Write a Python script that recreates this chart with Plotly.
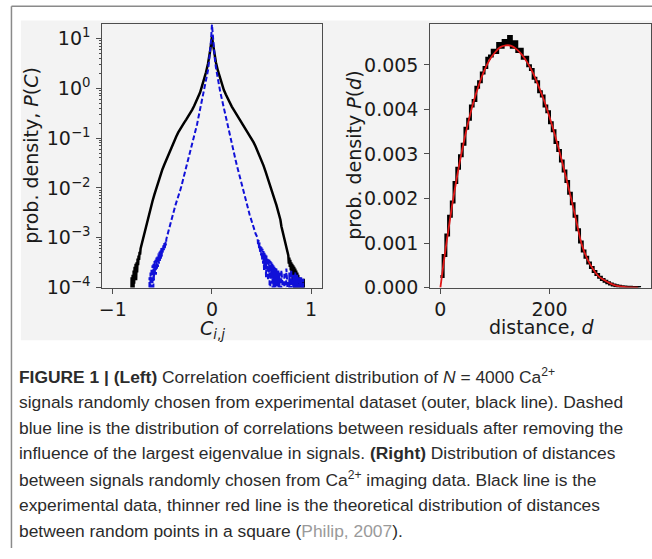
import plotly.graph_objects as go

W, H = 652, 559

# ---------------- data: left panel (correlation distribution) ----------------
black_c = [-0.83, -0.81, -0.805, -0.80, -0.795, -0.79, -0.785, -0.78, -0.775, -0.77, -0.765, -0.76,
           -0.755, -0.75, -0.745, -0.74, -0.735, -0.73, -0.725, -0.72, -0.71, -0.70, -0.69, -0.68,
           -0.67, -0.66, -0.65, -0.64, -0.63, -0.62, -0.61, -0.60, -0.58, -0.56, -0.54, -0.52,
           -0.50, -0.48, -0.46, -0.44, -0.42, -0.40, -0.38, -0.36, -0.34, -0.32, -0.30, -0.28,
           -0.26, -0.24, -0.22, -0.20, -0.18, -0.16, -0.14, -0.12, -0.10, -0.08, -0.06, -0.04,
           -0.03, -0.02, -0.01, 0.00, 0.01, 0.02, 0.03, 0.04, 0.06, 0.08, 0.10, 0.12,
           0.14, 0.16, 0.18, 0.20, 0.22, 0.24, 0.26, 0.28, 0.30, 0.32, 0.34, 0.36,
           0.38, 0.40, 0.42, 0.44, 0.46, 0.48, 0.50, 0.52, 0.54, 0.56, 0.58, 0.60,
           0.62, 0.64, 0.65, 0.66, 0.67, 0.68, 0.69, 0.70, 0.71, 0.72, 0.73, 0.74,
           0.75, 0.76, 0.77, 0.775, 0.78, 0.785, 0.79, 0.795, 0.80, 0.805, 0.81, 0.815,
           0.82, 0.825, 0.83, 0.835, 0.84, 0.845, 0.85, 0.855, 0.86, 0.865, 0.87, 0.875,
           0.88, 0.885, 0.89, 0.90, 0.905, 0.91, 0.92, 0.925, 0.93, 0.935]
black_p = [1e-7, 1.6e-4, 1e-7, 1.8e-4, 1e-7, 2.2e-4, 1.2e-4, 2.6e-4, 1.5e-4, 3.0e-4, 1.4e-4, 3.2e-4,
           2.0e-4, 3.8e-4, 2.8e-4, 4.4e-4, 3.6e-4, 5.2e-4, 4.6e-4, 6.0e-4, 7.2e-4, 8.8e-4, 1.1e-3, 1.3e-3,
           1.6e-3, 2.0e-3, 2.3e-3, 2.8e-3, 3.3e-3, 3.9e-3, 4.6e-3, 5.4e-3, 7.4e-3, 1.0e-2, 1.35e-2, 1.8e-2,
           2.35e-2, 2.95e-2, 3.7e-2, 4.6e-2, 5.8e-2, 7.4e-2, 9.0e-2, 0.108, 0.13, 0.155, 0.18, 0.205,
           0.235, 0.27, 0.31, 0.37, 0.44, 0.54, 0.66, 0.82, 1.12, 1.5, 2.1, 3.1,
           3.9, 5.4, 7.5, 11.0, 7.8, 5.8, 4.2, 3.3, 2.25, 1.6, 1.2, 0.92,
           0.75, 0.61, 0.51, 0.43, 0.37, 0.32, 0.27, 0.23, 0.20, 0.175, 0.15, 0.13,
           0.113, 0.097, 0.082, 0.068, 0.055, 0.045, 0.036, 0.028, 0.0215, 0.0165, 0.0125, 0.0093,
           0.0070, 0.0052, 0.0045, 0.0038, 0.0032, 0.0027, 0.0023, 0.0017, 0.0014, 0.0012, 9.5e-4, 7.5e-4,
           6.0e-4, 5.2e-4, 4.4e-4, 3.0e-4, 4.0e-4, 2.6e-4, 3.6e-4, 2.2e-4, 3.2e-4, 1.8e-4, 3.0e-4, 1.2e-4,
           2.8e-4, 1.6e-4, 2.6e-4, 1e-7, 2.4e-4, 1.4e-4, 2.2e-4, 1e-7, 2.0e-4, 1.3e-4, 1.8e-4, 1e-7,
           1.6e-4, 1e-7, 1.5e-4, 1e-7, 1.4e-4, 1e-7, 1e-7, 1.5e-4, 1e-7, 1e-7]

blue_c = [-0.64, -0.63, -0.625, -0.62, -0.615, -0.61, -0.605, -0.60, -0.595, -0.59, -0.585, -0.58,
          -0.575, -0.57, -0.565, -0.56, -0.555, -0.55, -0.545, -0.54, -0.535, -0.53, -0.525, -0.52,
          -0.515, -0.51, -0.505, -0.50, -0.495, -0.49, -0.485, -0.48, -0.475, -0.47, -0.465, -0.46,
          -0.45, -0.44, -0.43, -0.42,
          -0.41, -0.40, -0.39, -0.38, -0.37, -0.36, -0.35, -0.34, -0.33, -0.32, -0.31, -0.30,
          -0.29, -0.28, -0.27, -0.26, -0.25, -0.24, -0.23, -0.22, -0.21, -0.20, -0.19, -0.18,
          -0.17, -0.16, -0.15, -0.14, -0.13, -0.12, -0.11, -0.10, -0.09, -0.08, -0.07, -0.06,
          -0.05, -0.04, -0.03, -0.02, -0.01, 0.00, 0.01, 0.02, 0.03, 0.04, 0.05, 0.06,
          0.07, 0.08, 0.09, 0.10, 0.11, 0.12, 0.13, 0.14, 0.15, 0.16, 0.17, 0.18,
          0.19, 0.20, 0.21, 0.22, 0.23, 0.24, 0.25, 0.26, 0.27, 0.28, 0.29, 0.30,
          0.31, 0.32, 0.33, 0.34, 0.35, 0.36, 0.37, 0.38, 0.39, 0.40, 0.41, 0.42,
          0.43, 0.44, 0.45, 0.46, 0.465, 0.47, 0.475, 0.48, 0.485, 0.49, 0.495, 0.50,
          0.505, 0.51, 0.515, 0.52, 0.525, 0.53, 0.535, 0.54, 0.545, 0.55, 0.555, 0.56,
          0.565, 0.57, 0.575, 0.58, 0.585, 0.59, 0.595, 0.60, 0.605, 0.61, 0.615, 0.62,
          0.625, 0.63, 0.635, 0.64, 0.645, 0.65, 0.655, 0.66, 0.665, 0.67, 0.675, 0.68,
          0.69, 0.70, 0.71, 0.72, 0.73, 0.74, 0.75, 0.76, 0.77, 0.78, 0.79, 0.80,
          0.81, 0.82, 0.83, 0.84, 0.85, 0.86, 0.87, 0.88, 0.89, 0.90, 0.91, 0.92, 0.93]
blue_p = [1e-7, 1.6e-4, 1e-7, 2.0e-4, 1e-7, 2.4e-4, 1.2e-4, 2.8e-4, 1e-7, 3.0e-4, 1.4e-4, 3.4e-4,
          2.0e-4, 3.6e-4, 1.8e-4, 4.0e-4, 2.4e-4, 4.4e-4, 2.6e-4, 4.8e-4, 3.0e-4, 5.2e-4, 3.4e-4, 5.8e-4,
          3.8e-4, 6.2e-4, 4.2e-4, 6.6e-4, 5.0e-4, 7.2e-4, 5.6e-4, 7.8e-4, 6.2e-4, 8.4e-4, 7.0e-4, 9.4e-4,
          1.1e-3, 1.3e-3, 1.55e-3, 1.8e-3,
          2.2e-3, 2.6e-3, 3.1e-3, 3.7e-3, 4.4e-3, 5.0e-3, 5.8e-3, 6.8e-3, 7.8e-3, 9.0e-3, 1.05e-2, 1.25e-2,
          1.5e-2, 1.8e-2, 2.2e-2, 2.7e-2, 3.2e-2, 3.9e-2, 4.7e-2, 5.6e-2, 6.6e-2, 7.8e-2, 9.2e-2, 0.11,
          0.13, 0.16, 0.19, 0.24, 0.30, 0.37, 0.46, 0.57, 0.70, 0.86, 1.05, 1.3,
          1.7, 2.3, 3.4, 5.2, 9.0, 19.0, 9.5, 5.6, 3.7, 2.6, 1.9, 1.45,
          1.15, 0.92, 0.74, 0.60, 0.48, 0.38, 0.31, 0.25, 0.20, 0.165, 0.135, 0.11,
          0.090, 0.075, 0.062, 0.051, 0.042, 0.035, 0.029, 0.024, 0.020, 0.0165, 0.0138, 0.0115,
          0.0096, 0.0080, 0.0067, 0.0056, 0.0047, 0.0040, 0.0034, 0.0029, 0.0025, 0.0021, 0.0018, 0.0016,
          0.0014, 0.0012, 0.0011, 0.0010, 7.0e-4, 9.0e-4, 6.0e-4, 8.0e-4, 5.0e-4, 7.0e-4, 4.4e-4, 6.4e-4,
          3.6e-4, 6.0e-4, 3.0e-4, 5.4e-4, 2.2e-4, 5.0e-4, 2.6e-4, 4.6e-4, 1.6e-4, 4.4e-4, 2.4e-4, 4.0e-4,
          1.4e-4, 3.8e-4, 2.0e-4, 3.6e-4, 1e-7, 3.4e-4, 1.6e-4, 3.2e-4, 1.2e-4, 3.0e-4, 1e-7, 2.8e-4,
          1.5e-4, 2.6e-4, 1e-7, 2.5e-4, 1.3e-4, 2.4e-4, 1e-7, 2.2e-4, 1.2e-4, 2.2e-4, 1e-7, 2.0e-4,
          1e-7, 2.2e-4, 1.3e-4, 1e-7, 2.0e-4, 1e-7, 2.4e-4, 1.2e-4, 1e-7, 2.0e-4, 1e-7, 2.2e-4,
          1e-7, 1.8e-4, 1e-7, 2.0e-4, 1e-7, 1.8e-4, 1e-7, 1.6e-4, 1e-7, 1.6e-4, 1e-7, 1.5e-4, 1e-7]

c_tickvals = [-1, 0, 1]
c_ticktext = ["−1", "0", "1"]
p_tickvals = [1e-4, 1e-3, 1e-2, 1e-1, 1e0, 1e1]
p_ticktext = ["10<sup>−4</sup>", "10<sup>−3</sup>", "10<sup>−2</sup>",
              "10<sup>−1</sup>", "10<sup>0</sup>", "10<sup>1</sup>"]

# ---------------- data: right panel (distance distribution) ----------------
dist_edges = list(range(0, 370, 5))
dist_hist = [0.00025, 0.00072, 0.00118, 0.00160, 0.00192, 0.00236, 0.00268, 0.00296, 0.00322, 0.00358,
             0.00378, 0.00408, 0.00420, 0.00450, 0.00462, 0.00482, 0.00494, 0.00515, 0.00520, 0.00533,
             0.00528, 0.00548, 0.00540, 0.00555, 0.00548, 0.00564, 0.00540, 0.00552, 0.00530, 0.00535,
             0.00515, 0.00517, 0.00498, 0.00490, 0.00470, 0.00462, 0.00440, 0.00430, 0.00408, 0.00395,
             0.00370, 0.00352, 0.00326, 0.00308, 0.00284, 0.00262, 0.00238, 0.00212, 0.00188, 0.00160,
             0.00130, 0.00102, 0.00082, 0.00068, 0.00055, 0.00045, 0.00036, 0.00029, 0.00023, 0.00018,
             0.00014, 0.00011, 0.00008, 0.000055, 0.00004, 0.000028, 0.000018, 0.000011, 0.000007, 0.000004,
             0.000002, 0.000001, 0.0000005, 0.0]
theory_d = [0, 10, 20, 30, 40, 50, 60, 70, 80, 90, 100, 110, 120, 130, 140, 150, 160, 170, 180, 190,
            200, 210, 220, 230, 240, 250, 256, 260, 270, 280, 290, 300, 310, 320, 330, 340, 350, 362]
theory_p = [0.0, 0.00091, 0.00173, 0.00246, 0.00310, 0.00366, 0.00414, 0.00453, 0.00486, 0.00511,
            0.00528, 0.00540, 0.00544, 0.00543, 0.00535, 0.00522, 0.00504, 0.00481, 0.00452, 0.00420,
            0.00383, 0.00342, 0.00297, 0.00249, 0.00198, 0.00144, 0.00111, 0.00093, 0.00062, 0.00041,
            0.00025, 0.00017, 0.00010, 0.00005, 0.000025, 0.00001, 0.000003, 0.0]
d_tickvals = [0, 200]
pd_tickvals = [0.000, 0.001, 0.002, 0.003, 0.004, 0.005]

caption_lines = [
    "<b>FIGURE 1 | (Left)</b> Correlation coefficient distribution of <i>N</i> = 4000 Ca<sup>2+</sup>",
    "signals randomly chosen from experimental dataset (outer, black line). Dashed",
    "blue line is the distribution of correlations between residuals after removing the",
    "influence of the largest eigenvalue in signals. <b>(Right)</b> Distribution of distances",
    "between signals randomly chosen from Ca<sup>2+</sup> imaging data. Black line is the",
    "experimental data, thinner red line is the theoretical distribution of distances",
    "between random points in a square (<span style='color:#9a9a9a'>Philip, 2007</span>).",
]

# ---------------- figure ----------------
def px(x):
    return x / W

def py(y):
    return 1 - y / H

BG = "#f3f3f3"
SPINE = "#4d4d4d"
TICKFONT = dict(family="DejaVu Sans", size=19, color="#1a1a1a")

fig = go.Figure()

fig.add_trace(go.Scatter(x=black_c, y=black_p, mode="lines", line_shape="linear",
                         line=dict(color="black", width=2.5), xaxis="x", yaxis="y",
                         showlegend=False))
fig.add_trace(go.Scatter(x=blue_c, y=blue_p, mode="lines", line_shape="linear",
                         line=dict(color="#1010d8", width=2, dash="5px,2.5px"),
                         xaxis="x", yaxis="y", showlegend=False))

fig.add_trace(go.Scatter(x=dist_edges, y=dist_hist, mode="lines", line_shape="hv",
                         line=dict(color="black", width=3), xaxis="x2", yaxis="y2",
                         showlegend=False))
fig.add_trace(go.Scatter(x=theory_d, y=theory_p, mode="lines", line_shape="spline",
                         line=dict(color="#e01818", width=1.8), xaxis="x2", yaxis="y2",
                         showlegend=False))

minor_vals = [m * 10 ** e for e in range(-4, 2) for m in range(2, 10)]

axis_common = dict(showgrid=False, zeroline=False, showline=True, mirror=True,
                   linecolor=SPINE, linewidth=1.2, ticks="outside", ticklen=5,
                   tickwidth=1.2, tickcolor=SPINE, tickfont=TICKFONT)

fig.update_layout(
    width=W, height=H,
    margin=dict(l=0, r=0, t=0, b=0),
    paper_bgcolor="white",
    plot_bgcolor=BG,
    xaxis=dict(domain=[px(99), px(320)], range=[-1.105, 1.11], anchor="y",
               tickmode="array", tickvals=c_tickvals, ticktext=c_ticktext,
               ticklabelstandoff=0, **axis_common),
    yaxis=dict(domain=[py(293.3), py(24)], type="log", range=[-4, 1.3], anchor="x",
               tickmode="array", tickvals=p_tickvals, ticktext=p_ticktext,
               minor=dict(ticks="outside", ticklen=2.5, tickcolor=SPINE, tickwidth=0.8,
                          tickmode="array", tickvals=minor_vals),
               ticklabelstandoff=2, **axis_common),
    xaxis2=dict(domain=[px(429), px(651)], range=[-18.4, 386], anchor="y2",
                tickmode="array", tickvals=d_tickvals, ticklabelstandoff=0, **axis_common),
    yaxis2=dict(domain=[py(293.3), py(24)], range=[0, 0.00593], anchor="x2",
                tickmode="array", tickvals=pd_tickvals, tickformat=".3f",
                ticklabelstandoff=2, **axis_common),
)

shapes = [
    dict(type="rect", xref="paper", yref="paper", x0=px(17), x1=1.0, y0=py(347), y1=py(21),
         fillcolor=BG, line=dict(width=0), layer="below"),
    dict(type="line", xref="paper", yref="paper", x0=px(7.5), x1=1.0, y0=py(6.5), y1=py(6.5),
         line=dict(color="#8a8a8a", width=1.5)),
    dict(type="line", xref="paper", yref="paper", x0=px(7.5), x1=px(7.5), y0=0, y1=py(6.5),
         line=dict(color="#8a8a8a", width=1.5)),
]
fig.update_layout(shapes=shapes)

annos = [
    dict(text="prob. density, <i>P</i>(<i>C</i>)", x=px(27), y=py(158), textangle=-90),
    dict(text="prob. density <i>P</i>(<i>d</i>)", x=px(352), y=py(158), textangle=-90),
    dict(text="<i>C</i><sub><i>i</i>,<i>j</i></sub>", x=px(210), y=py(336)),
    dict(text="distance, <i>d</i>", x=px(541), y=py(334)),
]
for a in annos:
    a.update(xref="paper", yref="paper", showarrow=False, xanchor="center", yanchor="middle",
             font=dict(family="DejaVu Sans", size=19, color="#1a1a1a"))
    fig.add_annotation(**a)

for i, line in enumerate(caption_lines):
    fig.add_annotation(text=line, x=px(13), y=py(384 + 26.2 * i), xref="paper", yref="paper",
                       showarrow=False, xanchor="left", yanchor="middle", align="left",
                       font=dict(family="Liberation Sans", size=17.4, color="#2b2b2b"))

page_js = (
    "document.documentElement.style.margin='0';document.body.style.margin='0';"
    "document.documentElement.style.overflow='hidden';document.body.style.overflow='hidden';"
)
fig.write_html("out.html", config={"displayModeBar": False, "responsive": False},
               post_script=page_js)
